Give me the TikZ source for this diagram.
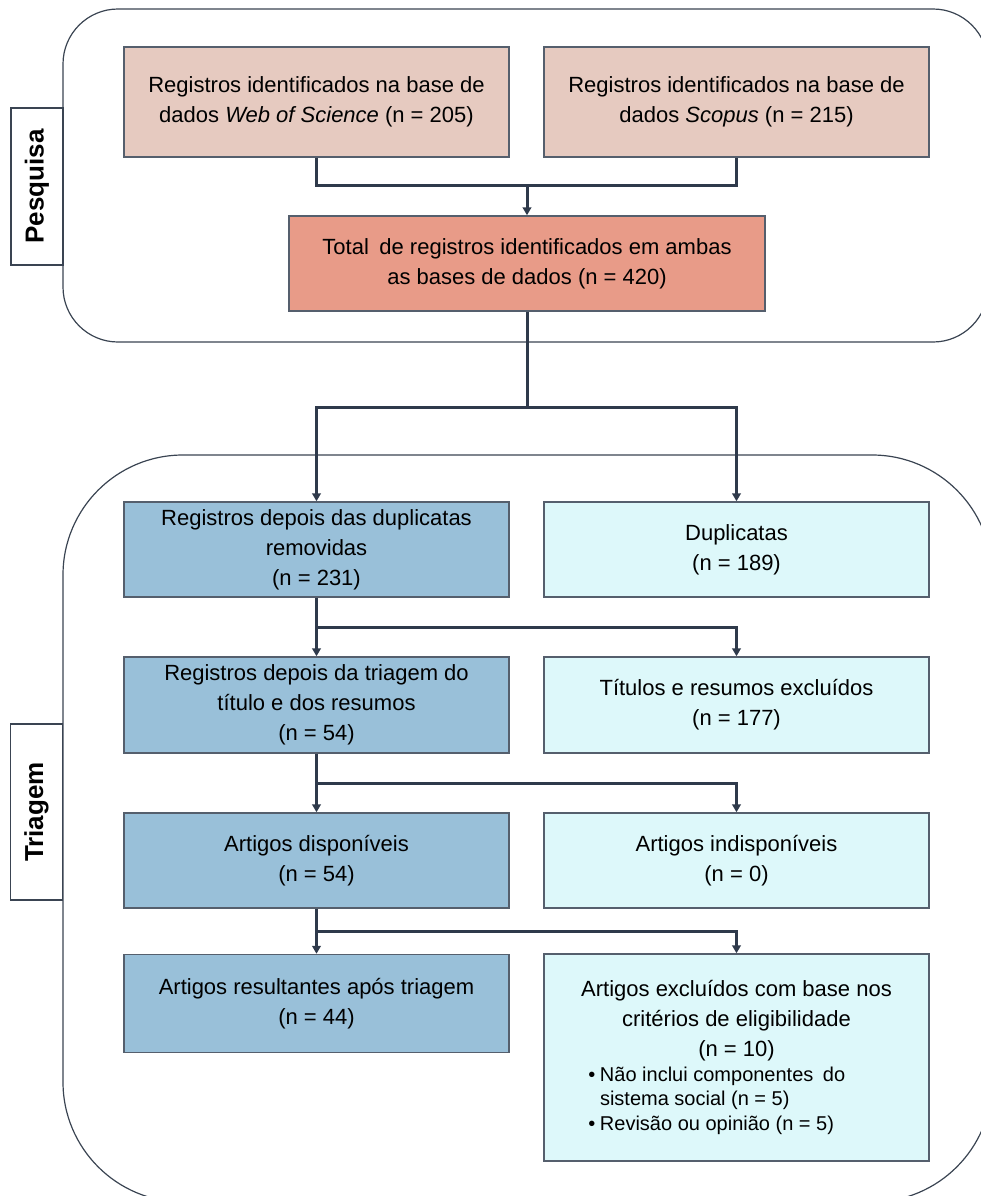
\documentclass[tikz,border=0pt]{standalone}
\usepackage{fontspec}
\setmainfont{Liberation Sans}
\usetikzlibrary{arrows.meta,calc}

\definecolor{srcfill}{HTML}{E6CAC0}
\definecolor{totfill}{HTML}{E89B88}
\definecolor{keepfill}{HTML}{99C0D9}
\definecolor{dropfill}{HTML}{DDF8FA}
\definecolor{edge}{HTML}{555F6D}
\definecolor{wire}{HTML}{2F3A4B}
\definecolor{frame}{HTML}{3A4452}

\newcommand{\bulletmark}{\leavevmode\llap{•\hspace{3.5pt}}}

\begin{document}
\begin{tikzpicture}[x=0.75pt,y=-0.75pt,
  box/.style={draw=edge, line width=1.1pt, align=center, inner sep=0pt,
    font=\fontsize{16.5pt}{22.5pt}\selectfont, minimum width=288.75pt},
  srcbox/.style={box, fill=srcfill, minimum height=82.5pt},
  keepbox/.style={box, fill=keepfill},
  dropbox/.style={box, fill=dropfill},
  panel/.style={draw=frame, line width=0.9pt},
  tab/.style={draw=frame, fill=white, line width=0.9pt, rotate=90, inner sep=0pt,
    minimum height=39pt, font=\bfseries\fontsize{19.5pt}{22pt}\selectfont},
  conn/.style={draw=wire, line width=2.25pt},
  arr/.style={conn, -{Triangle[width=6.5pt,length=6pt]}}
]
\useasboundingbox (0,0) rectangle (981,1196);
\clip (0,0) rectangle (981,1196);

% stage panels
\draw[panel, rounded corners=41.25pt] (63,9) rectangle (988,342);
\draw[panel, rounded corners=90pt] (63,455) rectangle (992,1202);

% stage tabs
\node[tab, minimum width=117.75pt] (tabA) at (37,186.5) {Pesquisa};
\node[tab, minimum width=132pt] (tabB) at (36.5,812) {Triagem};

% search stage
\node[srcbox] (wos) at (316.5,102) {Registros identificados na base de\\dados \textit{Web of Science} (n = 205)};
\node[srcbox] (scopus) at (736.5,102) {Registros identificados na base de\\dados \textit{Scopus} (n = 215)};
\node[box, fill=totfill, minimum width=357pt, minimum height=71.25pt] (total) at (527,263.5)
  {Total\hspace{0.2em} de registros identificados em ambas\\as bases de dados (n = 420)};

% screening stage
\node[keepbox, minimum height=71.25pt] (dup) at (316.5,549.5) {Registros depois das duplicatas\\removidas\\(n = 231)};
\node[dropbox, minimum height=71.25pt] (dupR) at (736.5,549.5) {Duplicatas\\(n = 189)};
\node[keepbox, minimum height=72pt] (tri) at (316.5,705) {Registros depois da triagem do\\título e dos resumos\\(n = 54)};
\node[dropbox, minimum height=72pt] (triR) at (736.5,705) {Títulos e resumos excluídos\\(n = 177)};
\node[keepbox, minimum height=71.25pt] (disp) at (316.5,860.5) {Artigos disponíveis\\(n = 54)};
\node[dropbox, minimum height=71.25pt] (dispR) at (736.5,860.5) {Artigos indisponíveis\\(n = 0)};
\node[keepbox, minimum height=73.5pt] (res) at (316.5,1003.5) {Artigos resultantes após triagem\\(n = 44)};
\node[dropbox, minimum height=155.25pt] (exc) at (736.5,1057.5) {%
  \begin{minipage}{288.75pt}
  \centering Artigos excluídos com base nos\\critérios de eligibilidade\\(n = 10)\par
  \raggedright\leftskip=42pt\fontsize{15pt}{18.4pt}\selectfont
  \bulletmark Não inclui componentes\hspace{0.2em} do\\
  sistema social (n = 5)\\
  \bulletmark Revisão ou opinião (n = 5)\par
  \end{minipage}};

% connectors
\coordinate (mA) at (527,185);
\draw[conn] (wos.south) |- (mA) -| (scopus.south);
\draw[arr] (mA) -- (total.north);

\coordinate (sp) at (527,407);
\draw[conn] (total.south) -- (sp);
\draw[arr] (sp) -| (dup.north);
\draw[arr] (sp) -| (dupR.north);

\coordinate (b1) at ($(dup.south)!0.5!(tri.north)$);
\draw[arr] (dup.south) -- (tri.north);
\draw[arr] (b1) -| (triR.north);

\coordinate (b2) at ($(tri.south)!0.5!(disp.north)$);
\draw[arr] (tri.south) -- (disp.north);
\draw[arr] (b2) -| (dispR.north);

\coordinate (b3) at ($(disp.south)!0.5!(res.north)$);
\draw[arr] (disp.south) -- (res.north);
\draw[arr] (b3) -| (exc.north);
\end{tikzpicture}
\end{document}
